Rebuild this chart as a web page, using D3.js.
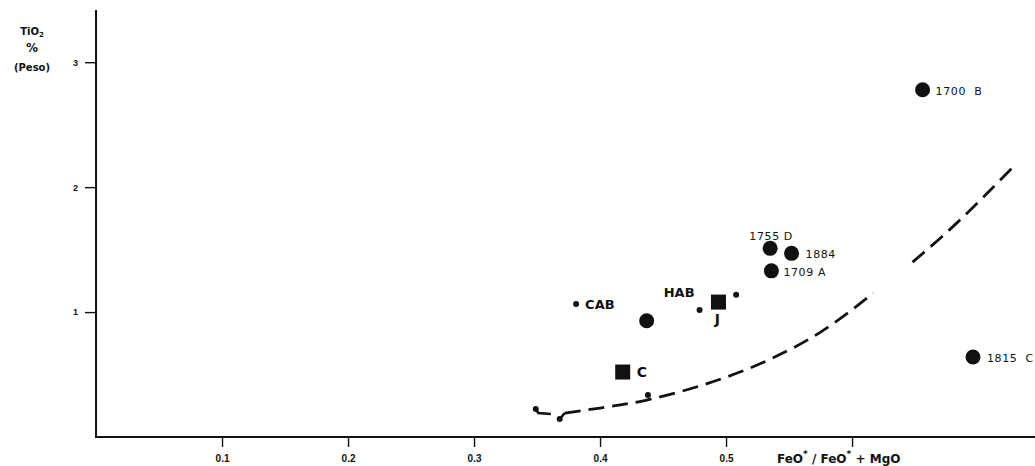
<!DOCTYPE html>
<html>
<head>
<meta charset="utf-8">
<script src="https://cdn.jsdelivr.net/npm/d3@7/dist/d3.min.js"></script>
<style>
  html, body { margin: 0; padding: 0; background: #fff; }
  svg { display: block; font-family: "DejaVu Sans", "Liberation Sans", sans-serif; }
</style>
</head>
<body>
<svg id="chart" width="1035" height="466"></svg>
<script>
// ---- data ----
const xTicks = [0.1, 0.2, 0.3, 0.4, 0.5, 0.6];
const xTickLabels = ["0.1", "0.2", "0.3", "0.4", "0.5", ""];
const yTicks = [1, 2, 3];
const yTickLabels = ["1", "2", "3"];

// large circles (samples)
const circleX = [0.656, 0.535, 0.552, 0.536, 0.696, 0.437];
const circleY = [2.78, 1.51, 1.47, 1.33, 0.64, 0.93];
const circleLabels = ["1700  B", "1755 D", "1884", "1709 A", "1815  C", ""];

// squares
const squareX = [0.494, 0.418];
const squareY = [1.08, 0.52];
const squareLabels = ["J", "C"];

// small dots
const dotX = [0.381, 0.479, 0.508, 0.349, 0.368, 0.438];
const dotY = [1.064, 1.016, 1.138, 0.224, 0.144, 0.336];
const dotLabels = ["CAB", "HAB", "", "", "", ""];

// dashed trend curve (pieces)
const curve1X = [0.351, 0.361];
const curve1Y = [0.192, 0.184];
const curve2X = [0.372, 0.400, 0.437, 0.479, 0.511, 0.537, 0.575, 0.617];
const curve2Y = [0.192, 0.232, 0.296, 0.408, 0.520, 0.632, 0.840, 1.152];
const curve3X = [0.648, 0.683, 0.727];
const curve3Y = [1.400, 1.712, 2.152];

// ---- layout ----
const svg = d3.select("#chart");
const x = d3.scaleLinear().domain([-0.0024, 0.7452]).range([93, 1035]);
const y = d3.scaleLinear().domain([0, 3.418]).range([437, 10]);

const ink = "#111";

// label offsets (layout only)
const circleLabelPos = [
  {dx: 13, dy: 5, anchor: "start"},
  {dx: 1, dy: -8, anchor: "middle"},
  {dx: 14, dy: 5, anchor: "start"},
  {dx: 12, dy: 5, anchor: "start"},
  {dx: 14, dy: 5, anchor: "start"},
  {dx: 0, dy: 0, anchor: "start"}
];
const squareLabelPos = [
  {dx: -1, dy: 22, anchor: "middle"},
  {dx: 14, dy: 5, anchor: "start"}
];
const dotLabelPos = [
  {dx: 9, dy: 5, anchor: "start"},
  {dx: -5, dy: -13, anchor: "end"}
];

// axes
const xAxis = d3.axisBottom(x).tickValues(xTicks)
  .tickFormat((d, i) => xTickLabels[i]).tickSize(10).tickSizeOuter(0).tickPadding(8);
const gx = svg.append("g").attr("transform", `translate(0,${y(0)})`).call(xAxis);
gx.select(".domain").remove();
gx.selectAll(".tick line").attr("stroke", ink).attr("stroke-width", 1.4);
gx.selectAll(".tick text").attr("fill", ink).attr("font-size", 10).attr("font-weight", "bold");

const yAxis = d3.axisLeft(y).tickValues(yTicks)
  .tickFormat((d, i) => yTickLabels[i]).tickSize(11).tickSizeOuter(0).tickPadding(7);
const gy = svg.append("g").attr("transform", `translate(${x(0)},0)`).call(yAxis);
gy.select(".domain").remove();
gy.selectAll(".tick line").attr("stroke", ink).attr("stroke-width", 1.4);
gy.selectAll(".tick text").attr("fill", ink).attr("font-size", 9).attr("font-weight", "bold");

// axis lines
svg.append("line").attr("x1", x(0)).attr("x2", x(0)).attr("y1", y(3.418)).attr("y2", y(0))
  .attr("stroke", ink).attr("stroke-width", 2);
svg.append("line").attr("x1", x(0) - 1).attr("x2", 1035).attr("y1", y(0)).attr("y2", y(0))
  .attr("stroke", ink).attr("stroke-width", 1.8);

// axis titles
const yt = svg.append("text").attr("text-anchor", "middle").attr("fill", ink)
  .attr("font-weight", "bold").attr("font-size", 10);
yt.append("tspan").attr("x", 32).attr("y", 35).text("TiO").append("tspan")
  .attr("font-size", 7).attr("dy", 2).text("2");
svg.append("text").attr("x", 32).attr("y", 52).attr("text-anchor", "middle").attr("fill", ink)
  .attr("font-weight", "bold").attr("font-size", 12).text("%");
svg.append("text").attr("x", 32).attr("y", 71).attr("text-anchor", "middle").attr("fill", ink)
  .attr("font-weight", "bold").attr("font-size", 10).text("(Peso)");

const xt = svg.append("text").attr("x", 777).attr("y", 463).attr("fill", ink)
  .attr("font-weight", "bold").attr("font-size", 12);
xt.append("tspan").text("FeO");
xt.append("tspan").attr("dy", -6).attr("font-size", 9).text("*");
xt.append("tspan").attr("dy", 6).text(" / FeO");
xt.append("tspan").attr("dy", -6).attr("font-size", 9).text("*");
xt.append("tspan").attr("dy", 6).text(" + MgO");

// dashed curve
const line = d3.line().x(d => x(d[0])).y(d => y(d[1])).curve(d3.curveBasis);
const c1 = curve1X.map((v, i) => [v, curve1Y[i]]);
const c2 = curve2X.map((v, i) => [v, curve2Y[i]]);
const c3 = curve3X.map((v, i) => [v, curve3Y[i]]);
svg.append("path")
  .attr("d", d3.line().x(d => x(d[0])).y(d => y(d[1])).curve(d3.curveLinear)(
    [[dotX[3], dotY[3]], ...c1]))
  .attr("fill", "none").attr("stroke", ink).attr("stroke-width", 2.6);
svg.append("path")
  .attr("d", d3.line().x(d => x(d[0])).y(d => y(d[1])).curve(d3.curveMonotoneX)(
    [[dotX[4], dotY[4]], c2[0]]))
  .attr("fill", "none").attr("stroke", ink).attr("stroke-width", 2.6);
[c2, c3].forEach(pts => {
  svg.append("path").attr("d", d3.line().x(d => x(d[0])).y(d => y(d[1])).curve(d3.curveNatural)(pts))
    .attr("fill", "none").attr("stroke", ink).attr("stroke-width", 2.8)
    .attr("stroke-dasharray", "16,8");
});

// small dots
dotX.forEach((v, i) => {
  svg.append("circle").attr("cx", x(v)).attr("cy", y(dotY[i])).attr("r", 3).attr("fill", ink);
  if (dotLabels[i]) {
    const p = dotLabelPos[i];
    svg.append("text").attr("x", x(v) + p.dx).attr("y", y(dotY[i]) + p.dy)
      .attr("text-anchor", p.anchor).attr("fill", ink).attr("font-weight", "bold")
      .attr("font-size", 13).text(dotLabels[i]);
  }
});

// circles
circleX.forEach((v, i) => {
  svg.append("circle").attr("cx", x(v)).attr("cy", y(circleY[i])).attr("r", 7.5).attr("fill", ink);
  if (circleLabels[i]) {
    const p = circleLabelPos[i];
    svg.append("text").attr("x", x(v) + p.dx).attr("y", y(circleY[i]) + p.dy)
      .attr("text-anchor", p.anchor).attr("fill", ink).attr("font-size", 11)
      .attr("letter-spacing", 0.6).attr("xml:space", "preserve")
      .style("white-space", "pre").text(circleLabels[i]);
  }
});

// squares
squareX.forEach((v, i) => {
  const s = 15;
  svg.append("rect").attr("x", x(v) - s / 2).attr("y", y(squareY[i]) - s / 2)
    .attr("width", s).attr("height", s).attr("fill", ink);
  const p = squareLabelPos[i];
  svg.append("text").attr("x", x(v) + p.dx).attr("y", y(squareY[i]) + p.dy)
    .attr("text-anchor", p.anchor).attr("fill", ink).attr("font-weight", "bold")
    .attr("font-size", 14).text(squareLabels[i]);
});
</script>
</body>
</html>
